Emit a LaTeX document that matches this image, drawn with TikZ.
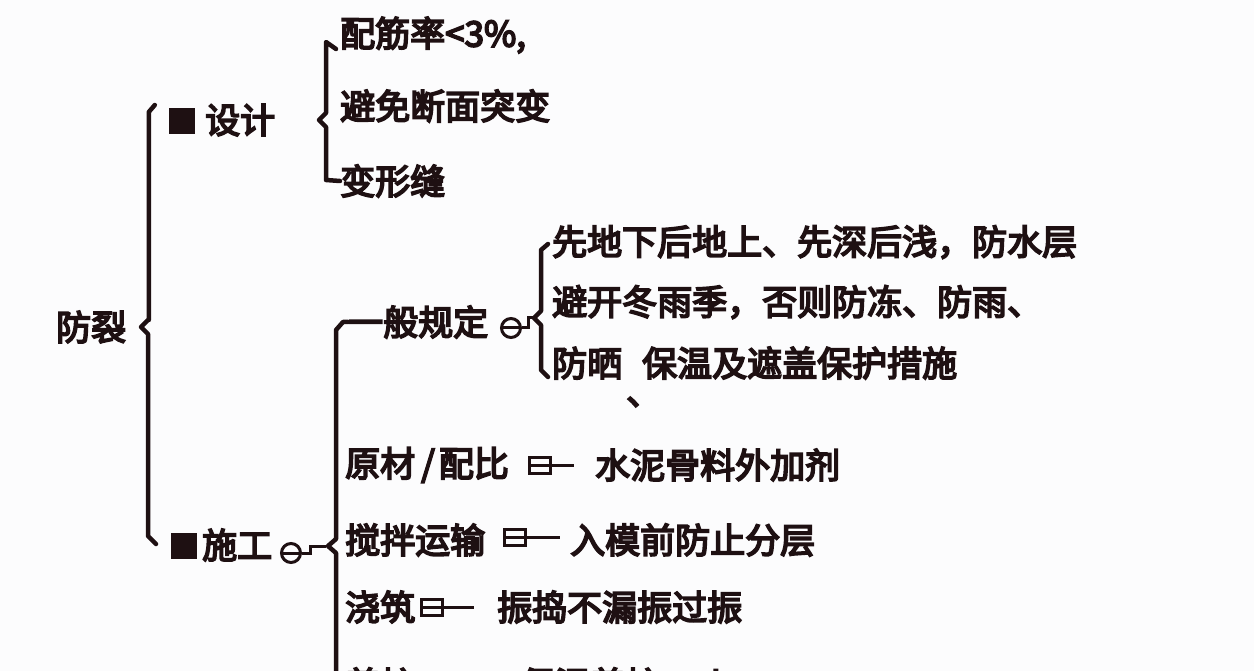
\documentclass[tikz,border=0pt]{standalone}
\usepackage{fontspec}
\setmainfont{Noto Sans CJK SC}[FakeBold=5]
\definecolor{ink}{HTML}{1E1012}
\definecolor{bg}{HTML}{FCFCFD}
\begin{document}
\begin{tikzpicture}[x=1pt,y=-1pt,
  txt/.style={anchor=west, inner sep=0pt, text=ink, font=\fontsize{35}{38}\selectfont},
  ln/.style={draw=ink, line width=4.5pt, line join=round, line cap=round},
  thin/.style={draw=ink, line width=3pt},
  sqr/.style={fill=ink, minimum size=26pt, inner sep=0pt},
  boxic/.style={draw=ink, line width=3pt, minimum width=21pt, minimum height=16pt, inner sep=0pt,
    path picture={\draw[ink, line width=3pt] (path picture bounding box.west) -- (path picture bounding box.east);}},
  circic/.style={draw=ink, circle, line width=3pt, minimum size=19pt, inner sep=0pt,
    path picture={\draw[ink, line width=3pt] (path picture bounding box.west) -- (path picture bounding box.east);}}]
\path[use as bounding box, fill=bg] (0,0) rectangle (1254,671);
\clip (0,0) rectangle (1254,671);

% root
\node[txt] (root) at (56,327) {防裂};

% level 1
\node[sqr] (sq1) at (182,121) {};
\node[txt] (sj) at (205,120) {设计};
\node[sqr] (sq2) at (184,546) {};
\node[txt] (sg) at (202,545) {施工};
\node[circic] (ic1) at (291,553) {};

% design children
\node[txt] (a1) at (340,35) {配筋率<3\%,};
\node[txt] (a2) at (340,106) {避免断面突变};
\node[txt] (a3) at (340,181) {变形缝};

% construction children
\node[txt] (b1) at (348,322) {一般规定};
\node[circic] (ic2) at (511,328) {};
\node[txt] (c1) at (552,242) {先地下后地上、先深后浅，防水层};
\node[txt] (c2) at (552,302) {避开冬雨季，否则防冻、防雨、};
\node[txt] (c3) at (552,363) {防晒\hspace{20pt}保温及遮盖保护措施};
\node[txt] (c4) at (626,402) {、};

\node[txt] (b2) at (345,465) {原材\hspace{6pt}/\hspace{4pt}配比};
\node[boxic] (bx2) at (540,465) {};
\node[txt] (d2) at (595,465) {水泥骨料外加剂};

\node[txt] (b3) at (345,540) {搅拌运输};
\node[boxic] (bx3) at (515,537) {};
\node[txt] (d3) at (570,540) {入模前防止分层};

\node[txt] (b4) at (345,607) {浇筑};
\node[boxic] (bx4) at (432,607) {};
\node[txt] (d4) at (497,607) {振捣不漏振过振};

\node[txt] (b5) at (345,684) {养护};
\node[txt] (d5) at (520,684) {保湿养护14d};

% main bracket
\draw[ln] (sq1.west) ++(-14,-16) -- ++(-6,7) |- (148,320) -- (141,327) -- (148,334) -- (148,536) -- (156,544);
% design bracket
\draw[ln] (a1.west) ++(-4,14) -- (326,42) -- (326,113) -- (319,120) -- (326,127) -- (326,180) -- (a3.west);
% construction link
\draw[thin] (ic1.east) -- ++(8,0) |- (326,546);
% construction bracket
\draw[ln] (b1.west) -- (343,322) -- (336,330) -- (336,539) -- (328,546) -- (336,553) -- (336,680);
% general rules bracket
\draw[thin] (ic2.east) -- ++(6,0) |- (534,318);
\draw[ln] (c1.west) ++(-4,2) -- (541,250) -- (541,311) -- (534,318) -- (541,325) -- (541,370) -- (548,377);
% leaf dashes
\draw[thin] (bx2.east) -- (574,465);
\draw[thin] (bx3.east) -- (560,537);
\draw[thin] (bx4.east) -- (474,607);
\draw[thin] (420,684) -- (462,684);
\end{tikzpicture}
\end{document}
